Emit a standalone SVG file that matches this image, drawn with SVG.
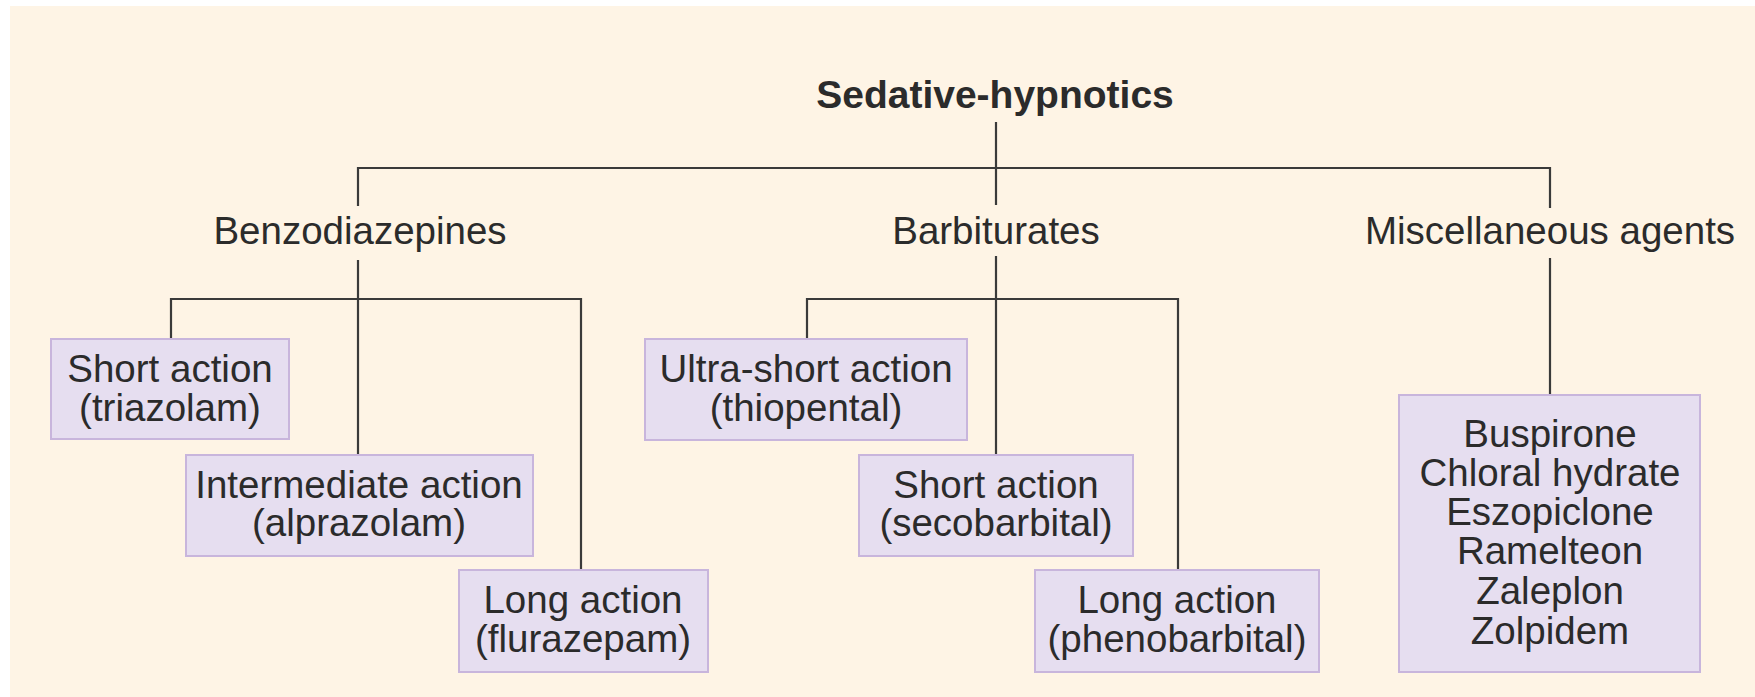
<svg xmlns="http://www.w3.org/2000/svg" width="1755" height="697" viewBox="0 0 1755 697">
<style>
.bg{fill:#fef4e5}
.box{fill:#e6def0;stroke:#c8b5dc;stroke-width:2}
.t{font-family:"Liberation Sans",Arial,sans-serif;font-size:38.5px;fill:#2b2b2b;text-anchor:middle}
.b{font-weight:bold;font-size:39px}
.c{fill:none;stroke:#3a3a3a;stroke-width:2.2}
</style>
<rect x="0" y="0" width="1755" height="697" fill="#ffffff"/>
<rect class="bg" x="10" y="6" width="1745" height="691"/>
<g id="connectors">
<path class="c" d="M996 122V205M358 206V168H1550V208"/>
<path class="c" d="M358 260V455M171 339V299H581V570"/>
<path class="c" d="M996 256V455M807 339V299H1178V570"/>
<path class="c" d="M1550 258V395"/>
</g>
<g id="root"><text class="t b" x="995" y="108">Sedative-hypnotics</text></g>
<g id="benzo"><text class="t" x="360" y="244">Benzodiazepines</text></g>
<g id="barb"><text class="t" x="996" y="244">Barbiturates</text></g>
<g id="misc"><text class="t" x="1550" y="244">Miscellaneous agents</text></g>
<g id="benzo-short"><rect class="box" x="51" y="339" width="238" height="100"/><text class="t" x="170" y="382">Short action</text><text class="t" x="170" y="421">(triazolam)</text></g>
<g id="benzo-inter"><rect class="box" x="186" y="455" width="347" height="101"/><text class="t" x="359" y="498">Intermediate action</text><text class="t" x="359" y="536">(alprazolam)</text></g>
<g id="benzo-long"><rect class="box" x="459" y="570" width="249" height="102"/><text class="t" x="583" y="613">Long action</text><text class="t" x="583" y="652">(flurazepam)</text></g>
<g id="barb-ultra"><rect class="box" x="645" y="339" width="322" height="101"/><text class="t" x="806" y="382">Ultra-short action</text><text class="t" x="806" y="421">(thiopental)</text></g>
<g id="barb-short"><rect class="box" x="859" y="455" width="274" height="101"/><text class="t" x="996" y="498">Short action</text><text class="t" x="996" y="536">(secobarbital)</text></g>
<g id="barb-long"><rect class="box" x="1035" y="570" width="284" height="102"/><text class="t" x="1177" y="613">Long action</text><text class="t" x="1177" y="652">(phenobarbital)</text></g>
<g id="misc-list"><rect class="box" x="1399" y="395" width="301" height="277"/>
<text class="t" x="1550" y="447">Buspirone</text>
<text class="t" x="1550" y="486">Chloral hydrate</text>
<text class="t" x="1550" y="525">Eszopiclone</text>
<text class="t" x="1550" y="564">Ramelteon</text>
<text class="t" x="1550" y="604">Zaleplon</text>
<text class="t" x="1550" y="644">Zolpidem</text>
</g>
</svg>
